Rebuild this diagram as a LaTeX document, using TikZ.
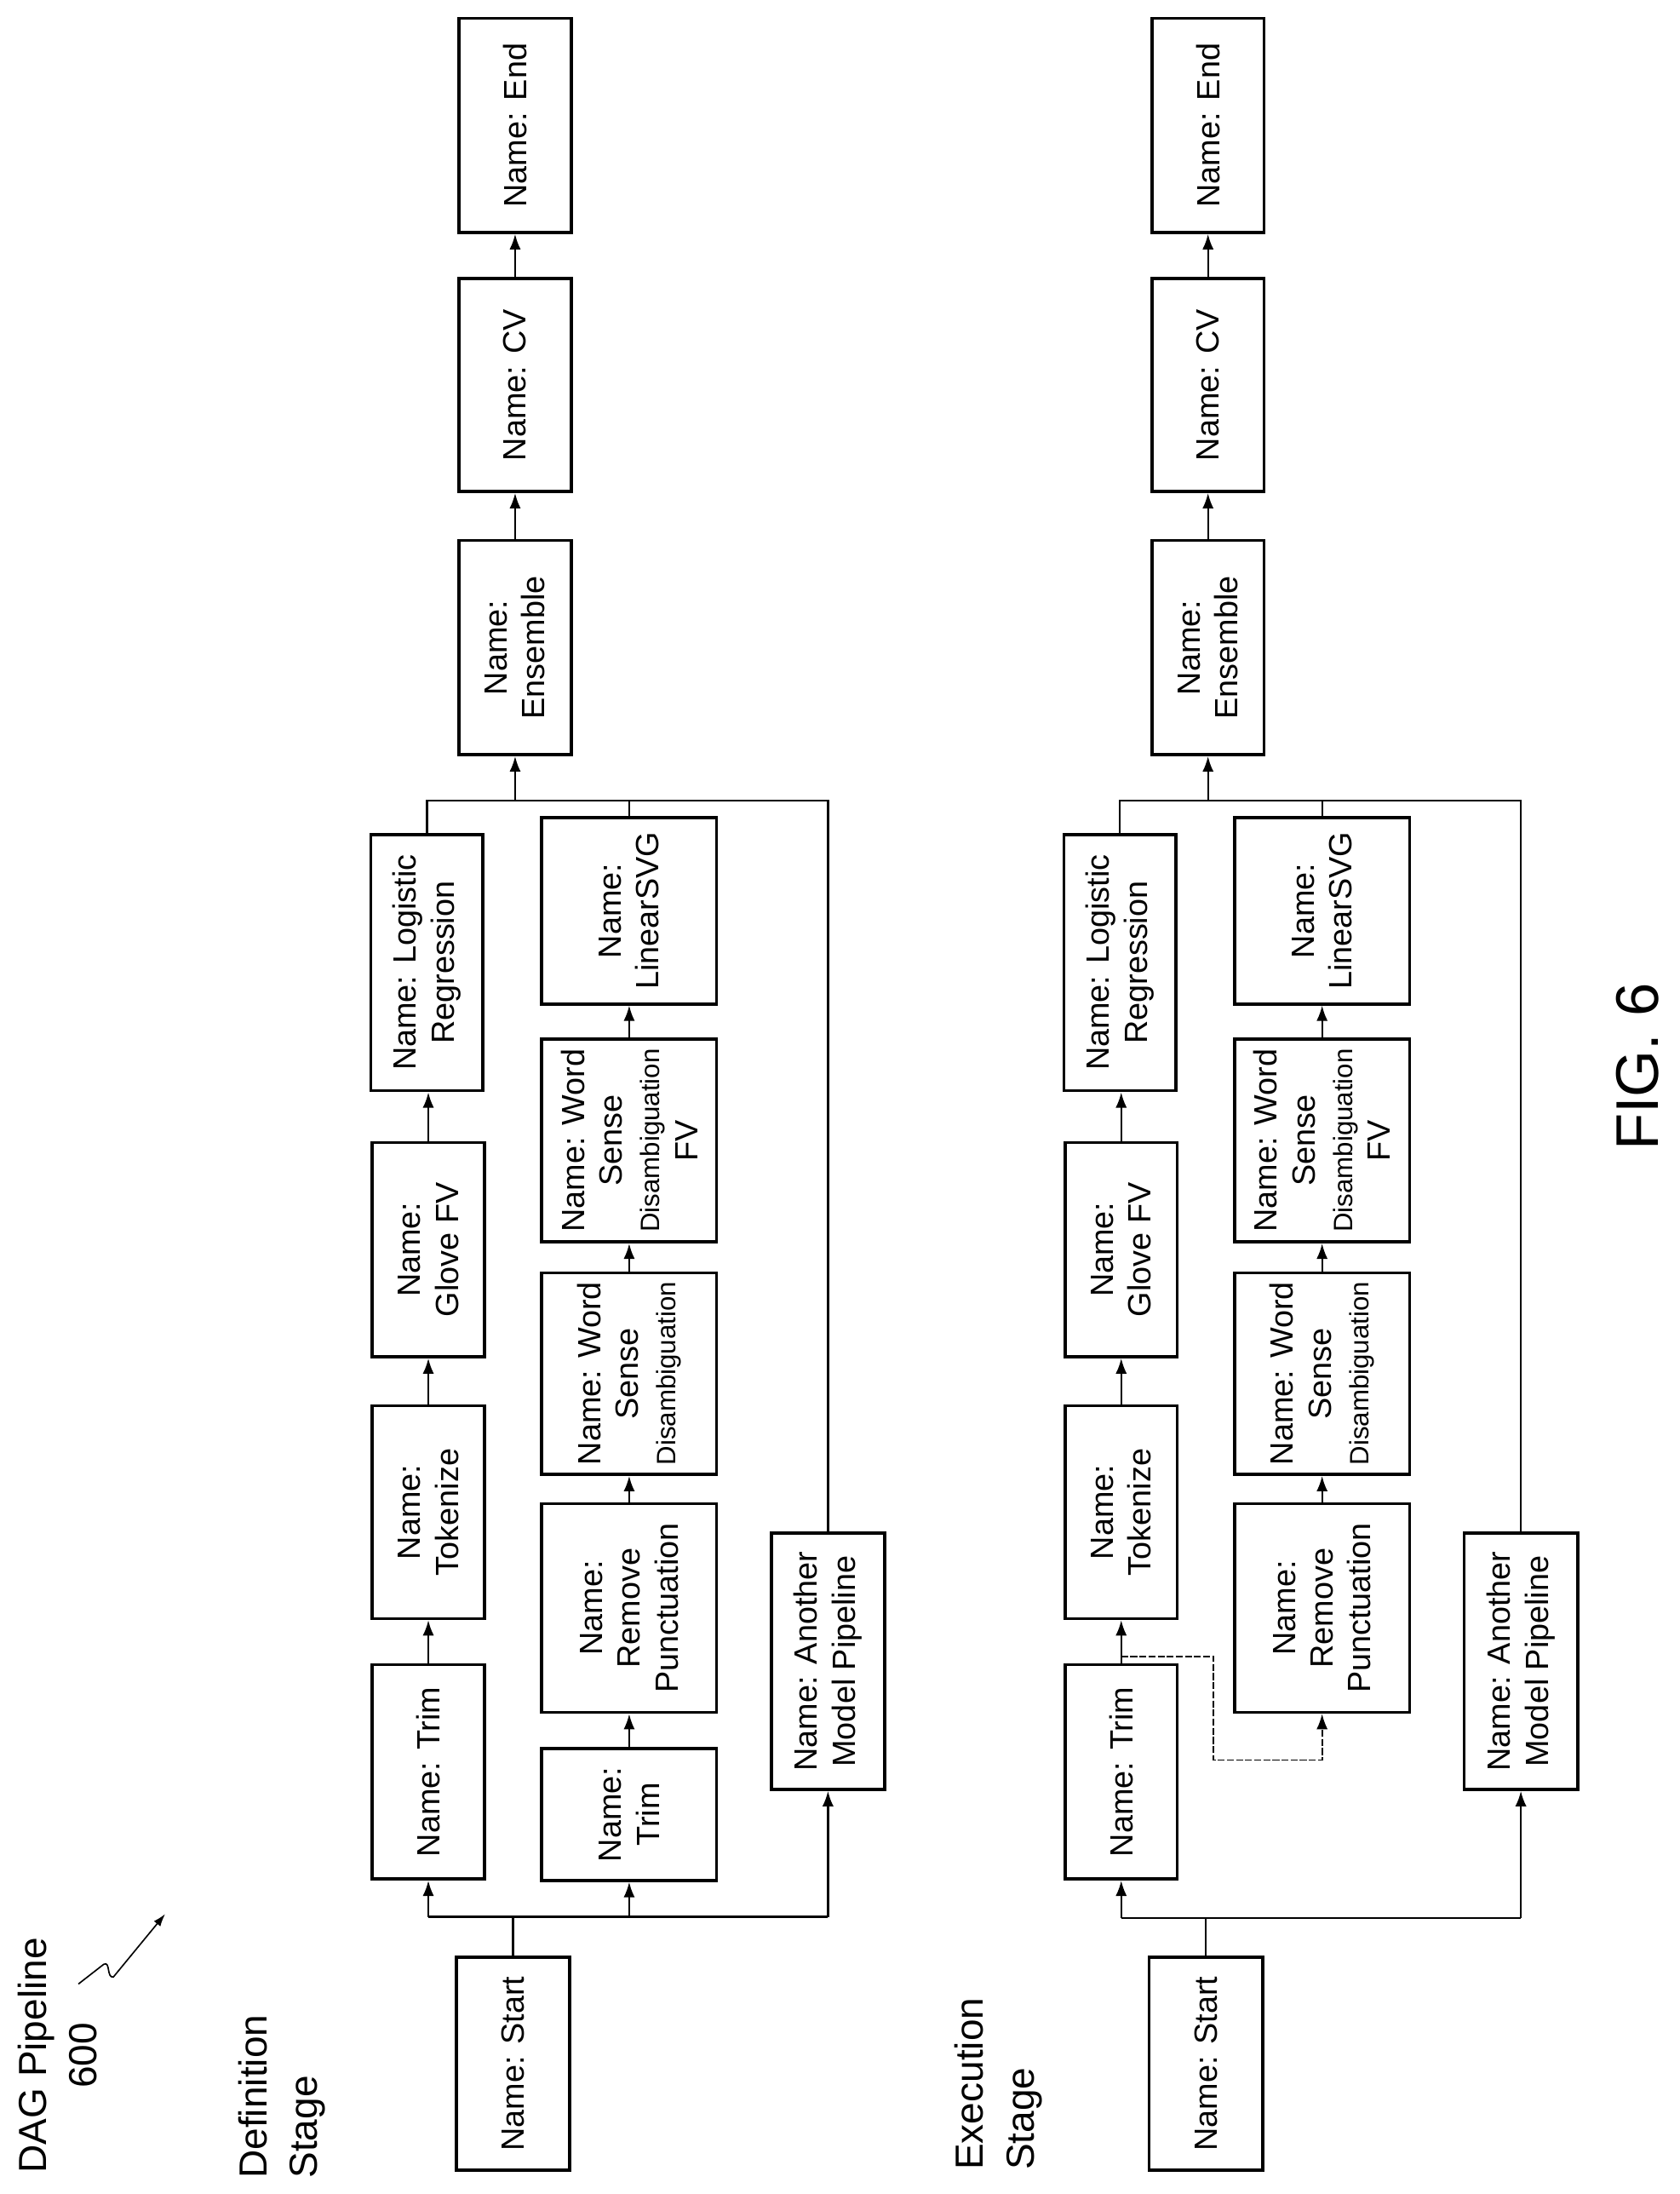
\documentclass[tikz,border=0pt]{standalone}
\usepackage{fontspec}
\setmainfont{Liberation Sans}
\usetikzlibrary{arrows.meta}
\newcommand\bx[6]{%
  \pgfmathsetmacro\bxcx{(#2+#3)/2}\pgfmathsetmacro\bxcy{-(#4+#5)/2}%
  \pgfmathsetmacro\bxw{#5-#4}\pgfmathsetmacro\bxh{#3-#2}%
  \node[box,minimum width=\bxw pt,minimum height=\bxh pt] (#1) at (\bxcx,\bxcy) {#6};}
\begin{document}
\begin{tikzpicture}[x=1pt,y=1pt,
  box/.style={draw,line width=2.2pt,rotate=90,align=center,inner sep=0pt,
    font=\fontsize{23}{27}\selectfont},
  ln/.style={line width=1.4pt},
  arr/.style={line width=1.4pt,-{Latex[length=11pt,width=8pt]}},
  lbl/.style={rotate=90,inner sep=0pt,font=\fontsize{28}{36}\selectfont}]
\useasboundingbox (0,0) rectangle (1200,-1567);
\newcommand\dis{{\fontsize{19}{22}\selectfont Disambiguation}}
% ---------- Definition stage ----------
\bx{start}{326}{407}{1398}{1550}{Name: Start}
\bx{trimA}{266}{346}{1189}{1342}{Name: Trim}
\bx{tok}{266}{346}{1004}{1156}{Name:\\Tokenize}
\bx{glove}{266}{346}{816}{969}{Name:\\Glove FV}
\bx{logi}{265}{345}{596}{779}{Name: Logistic\\Regression}
\bx{ens}{328}{408}{386}{539}{Name:\\Ensemble}
\bx{cv}{328}{408}{199}{351}{Name: CV}
\bx{end}{328}{408}{13}{166}{Name: End}
\bx{trimB}{387}{512}{1249}{1343}{Name:\\Trim}
\bx{rp}{387}{512}{1074}{1223}{Name:\\Remove\\Punctuation}
\bx{wsd}{387}{512}{909}{1053}{Name: Word\\Sense\\\dis}
\bx{wsdfv}{387}{512}{742}{887}{\fontsize{23}{24}\selectfont Name: Word\\Sense\\\dis\\FV}
\bx{lsvg}{387}{512}{584}{717}{Name:\\LinearSVG}
\bx{another}{551}{632}{1095}{1278}{Name: Another\\Model Pipeline}
\coordinate (b1) at (0,-1369);
\coordinate (b2) at (0,-572);
\draw[ln] (start.east) -- (start.east |- b1);
\draw[ln] (trimA.west |- b1) -- (another.west |- b1);
\draw[arr] (trimA.west |- b1) -- (trimA.west);
\draw[arr] (trimB.west |- b1) -- (trimB.west);
\draw[arr] (another.west |- b1) -- (another.west);
\draw[arr] (trimA.east) -- (trimA.east |- tok.west);
\draw[arr] (tok.east) -- (tok.east |- glove.west);
\draw[arr] (glove.east) -- (glove.east |- logi.west);
\draw[arr] (trimB.east) -- (rp.west);
\draw[arr] (rp.east) -- (wsd.west);
\draw[arr] (wsd.east) -- (wsdfv.west);
\draw[arr] (wsdfv.east) -- (lsvg.west);
\draw[ln] (logi.east) -- (logi.east |- b2) -- (another.east |- b2) -- (another.east);
\draw[ln] (lsvg.east) -- (lsvg.east |- b2);
\draw[arr] (ens.west |- b2) -- (ens.west);
\draw[arr] (ens.east) -- (cv.west);
\draw[arr] (cv.east) -- (end.west);
% ---------- Execution stage ----------
\bx{xstart}{821}{902}{1398}{1550}{Name: Start}
\bx{xtrimA}{761}{841}{1189}{1342}{Name: Trim}
\bx{xtok}{761}{841}{1004}{1156}{Name:\\Tokenize}
\bx{xglove}{761}{841}{816}{969}{Name:\\Glove FV}
\bx{xlogi}{760}{840}{596}{779}{Name: Logistic\\Regression}
\bx{xens}{823}{903}{386}{539}{Name:\\Ensemble}
\bx{xcv}{823}{903}{199}{351}{Name: CV}
\bx{xend}{823}{903}{13}{166}{Name: End}
\bx{xrp}{882}{1007}{1074}{1223}{Name:\\Remove\\Punctuation}
\bx{xwsd}{882}{1007}{909}{1053}{Name: Word\\Sense\\\dis}
\bx{xwsdfv}{882}{1007}{742}{887}{\fontsize{23}{24}\selectfont Name: Word\\Sense\\\dis\\FV}
\bx{xlsvg}{882}{1007}{584}{717}{Name:\\LinearSVG}
\bx{xanother}{1046}{1127}{1095}{1278}{Name: Another\\Model Pipeline}
\coordinate (xb1) at (0,-1370);
\coordinate (xd1) at (0,-1183);
\coordinate (xd2) at (867,-1257);
\draw[ln] (xstart.east) -- (xstart.east |- xb1);
\draw[ln] (xtrimA.west |- xb1) -- (xanother.west |- xb1);
\draw[arr] (xtrimA.west |- xb1) -- (xtrimA.west);
\draw[arr] (xanother.west |- xb1) -- (xanother.west);
\draw[arr] (xtrimA.east) -- (xtrimA.east |- xtok.west);
\draw[arr,line width=1pt,dash pattern=on 5pt off 1.5pt] (xtrimA.east |- xd1) -| (xd2) -| (xrp.west);
\draw[arr] (xtok.east) -- (xtok.east |- xglove.west);
\draw[arr] (xglove.east) -- (xglove.east |- xlogi.west);
\draw[arr] (xrp.east) -- (xwsd.west);
\draw[arr] (xwsd.east) -- (xwsdfv.west);
\draw[arr] (xwsdfv.east) -- (xlsvg.west);
\draw[ln] (xlogi.east) -- (xlogi.east |- b2) -- (xanother.east |- b2) -- (xanother.east);
\draw[ln] (xlsvg.east) -- (xlsvg.east |- b2);
\draw[arr] (xens.west |- b2) -- (xens.west);
\draw[arr] (xens.east) -- (xcv.west);
\draw[arr] (xcv.east) -- (xend.west);
% ---------- labels ----------
\node[lbl,align=center] (dag) at (41,-1468) {DAG Pipeline\\600};
\coordinate (sq0) at (56,-1417);
\coordinate (sq1) at (118,-1367);
\draw[line width=1pt,-{Latex[length=9pt,width=6pt]}] (sq0) -- (74,-1403) .. controls (79,-1400) and (76,-1413) .. (81,-1412) -- (sq1);
\node[lbl,align=left,anchor=north west] (def) at (170,-1556) {Definition\\Stage};
\node[lbl,align=left,anchor=north west] (exe) at (682,-1550) {Execution\\Stage};
\node[rotate=90,inner sep=0pt,font=\fontsize{43}{43}\selectfont] (fig) at (1170,-762) {FIG. 6};
\end{tikzpicture}
\end{document}
